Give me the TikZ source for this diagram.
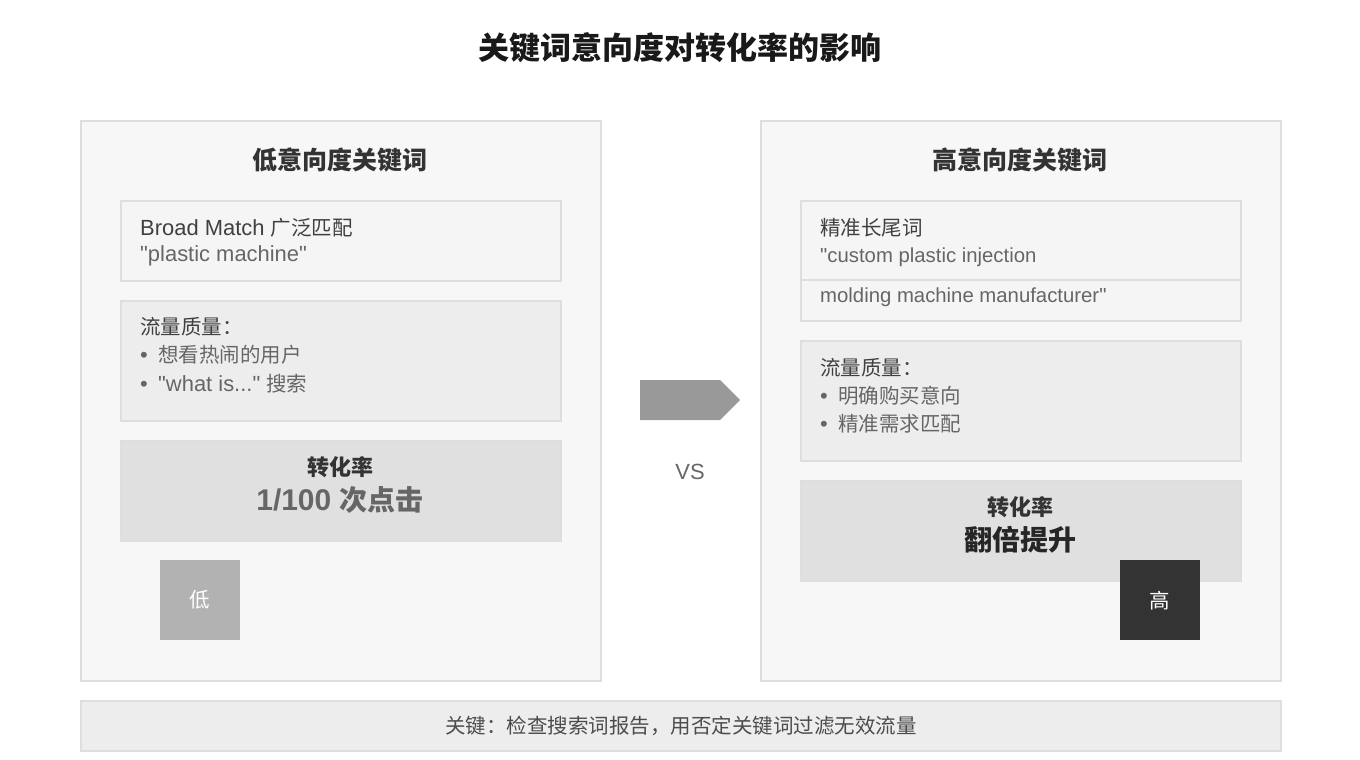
\documentclass[tikz,border=0pt]{standalone}
\usepackage{fontspec}
\setmainfont{Noto Sans CJK SC}
\newfontfamily\lat[Scale=1.07]{Liberation Sans}
\newcommand\bul{\makebox[18pt][l]{\lat •}}
\begin{document}
\begin{tikzpicture}[x=1pt,y=-1pt,
  panel/.style={draw=black!13,fill=black!3,line width=1.5pt},
  box/.style={draw=black!13,line width=1.5pt},
  t/.style={anchor=west,inner sep=0,font=\fontsize{20.5}{24}\selectfont},
  c/.style={inner sep=0,font=\fontsize{20.5}{24}\selectfont}]
\path[use as bounding box,fill=white] (0,0) rectangle (1360,760);
\node[c,font=\fontsize{31}{36}\selectfont\bfseries,text=black!90] (title) at (680,48) {关键词意向度对转化率的影响};
% left
\node[panel,minimum width=520,minimum height=560,anchor=north west] (lp) at (80,120) {};
\node[c,font=\fontsize{25}{30}\selectfont\bfseries,text=black!80] (lt) at (340,160) {低意向度关键词};
\node[box,fill=black!4,minimum width=440,minimum height=80,anchor=north west] (l1) at (120,200) {};
\node[t,text=black!75] (l1a) at (140,228) {{\lat Broad Match }广泛匹配};
\node[t,text=black!60] (l1b) at (140,256) {\lat "plastic machine"};
\node[box,fill=black!7,minimum width=440,minimum height=120,anchor=north west] (l2) at (120,300) {};
\node[t,text=black!75] (l2a) at (140,327) {流量质量：};
\node[t,text=black!60] (l2b) at (140,355) {\bul 想看热闹的用户};
\node[t,text=black!60] (l2c) at (140,384) {\bul{\lat "what is..." }搜索};
\node[box,fill=black!12,minimum width=440,minimum height=100,anchor=north west] (l3) at (120,440) {};
\node[c,font=\fontsize{22}{26}\selectfont\bfseries,text=black!80] (l3a) at (340,467) {转化率};
\node[c,font=\fontsize{28}{32}\selectfont\bfseries,text=black!60] (l3b) at (340,500) {{\lat 1/100 }次点击};
\node[fill=black!30,minimum width=80,minimum height=80,anchor=north west,inner sep=0] (lsq) at (160,560) {};
\node[c,text=white] at (lsq) {低};
% arrow
\fill[black!40] (640,380) -- (720,380) -- (740,400) -- (720,420) -- (640,420) -- cycle;
\node[c,text=black!60] (vs) at (690,472) {\lat VS};
% right
\node[panel,minimum width=520,minimum height=560,anchor=north west] (rp) at (760,120) {};
\node[c,font=\fontsize{25}{30}\selectfont\bfseries,text=black!80] (rt) at (1020,160) {高意向度关键词};
\node[box,fill=black!4,minimum width=440,minimum height=120,anchor=north west] (r1) at (800,200) {};
\draw[black!13,line width=1.5pt] (r1.west |- 0,280) -- (r1.east |- 0,280);
\node[t,text=black!75] (r1a) at (820,228) {精准长尾词};
\node[t,text=black!60,font=\fontsize{19}{24}\selectfont\lat] (r1b) at (820,257) {"custom plastic injection};
\node[t,text=black!60,font=\fontsize{19}{24}\selectfont\lat] (r1c) at (820,297) {molding machine manufacturer"};
\node[box,fill=black!7,minimum width=440,minimum height=120,anchor=north west] (r2) at (800,340) {};
\node[t,text=black!75] (r2a) at (820,368) {流量质量：};
\node[t,text=black!60] (r2b) at (820,396) {\bul 明确购买意向};
\node[t,text=black!60] (r2c) at (820,424) {\bul 精准需求匹配};
\node[box,fill=black!12,minimum width=440,minimum height=100,anchor=north west] (r3) at (800,480) {};
\node[c,font=\fontsize{22}{26}\selectfont\bfseries,text=black!80] (r3a) at (1020,507) {转化率};
\node[c,font=\fontsize{28}{32}\selectfont\bfseries,text=black!85] (r3b) at (1020,540) {翻倍提升};
\node[fill=black!80,minimum width=80,minimum height=80,anchor=north west,inner sep=0] (rsq) at (1120,560) {};
\node[c,text=white] at (rsq) {高};
% bottom
\node[box,fill=black!7,minimum width=1200,minimum height=50,anchor=north west] (bot) at (80,700) {};
\node[c,text=black!70] at (bot) {关键：检查搜索词报告，用否定关键词过滤无效流量};
\end{tikzpicture}
\end{document}
